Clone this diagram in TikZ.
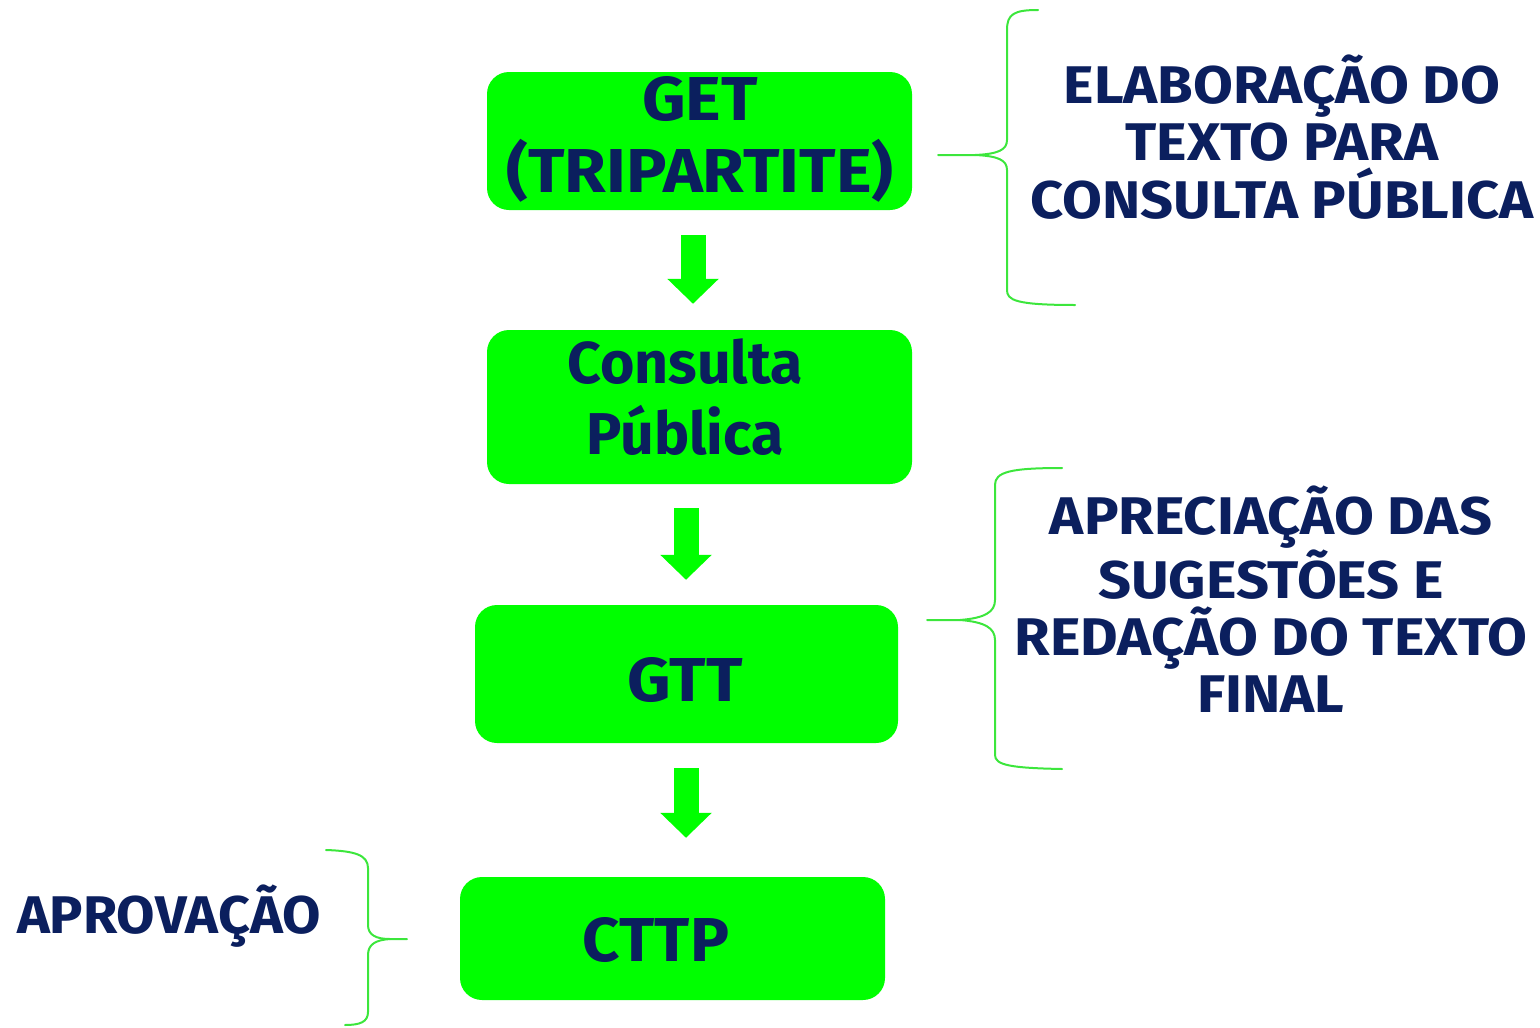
\documentclass[tikz,border=0pt]{standalone}
\usepackage{fontspec}
\setmainfont{Fira Sans}
\newfontfamily\boxfont{Fira Sans}[FakeStretch=1.09]
\newfontfamily\sidefont{Fira Sans}[FakeStretch=1.09]
\newfontfamily\aprfont{Fira Sans}[FakeStretch=1.05]
\usetikzlibrary{arrows.meta}
\definecolor{navy}{HTML}{0B1F5E}
\definecolor{lime}{HTML}{00FF00}
\definecolor{bracegreen}{HTML}{3CE63C}
\tikzset{
  stepbox/.style={rectangle, rounded corners=22pt, fill=lime, draw=none, inner sep=0pt},
  boxtext/.style={text=navy, font=\boxfont\fontsize{62}{72}\selectfont\bfseries, align=center, inner sep=0pt},
  sidetext/.style={text=navy, font=\sidefont\fontsize{53}{57.5}\selectfont\bfseries, align=center, inner sep=0pt},
  flowarrow/.style={draw=lime, line width=25pt, -{Triangle[width=50pt,length=25pt]}},
  bracepath/.style={draw=bracegreen, line width=2pt, line cap=round, line join=round},
}
\begin{document}
\begin{tikzpicture}[x=1pt,y=-1pt]
\useasboundingbox (0,0) rectangle (1540,1028);
% boxes
\node[stepbox, minimum width=425pt, minimum height=138pt] (b1) at (699.5,141) {};
\node[stepbox, minimum width=425pt, minimum height=154pt] (b2) at (699.5,407) {};
\node[stepbox, minimum width=423pt, minimum height=138pt] (b3) at (686.5,674) {};
\node[stepbox, minimum width=425pt, minimum height=123pt] (b4) at (672.5,938.5) {};
% box texts
\node[boxtext] (t1) at (700,139) {GET\\(TRIPARTITE)};
\node[boxtext, font=\rmfamily\fontsize{59}{71}\selectfont\bfseries] (t2) at (685,397) {Consulta\\Pública};
\node[boxtext] (t3) at (685,680) {GTT};
\node[boxtext, font=\aprfont\fontsize{62}{72}\selectfont\bfseries] (t4) at (656,940) {CTTP};
% arrow columns
\coordinate (c1) at (693,0);
\coordinate (c2) at (686,0);
\coordinate (c3) at (686,0);
\draw[flowarrow, shorten <=25pt, shorten >=26pt] (b1.south -| c1) -- (b2.north -| c1);
\draw[flowarrow, shorten <=24pt, shorten >=25pt] (b2.south -| c2) -- (b3.north -| c2);
\draw[flowarrow, shorten <=25pt, shorten >=39pt] (b3.south -| c3) -- (b4.north -| c3);
% side texts
\node[sidetext] (s1) at (1282,137) {ELABORAÇÃO DO\\TEXTO PARA\\CONSULTA PÚBLICA};
\node[sidetext, font=\sidefont\fontsize{53}{57}\selectfont\bfseries] (s2) at (1271,599) {APRECIAÇÃO DAS\\SUGESTÕES E\\REDAÇÃO DO TEXTO\\FINAL};
\node[sidetext, font=\aprfont\fontsize{53}{57.5}\selectfont\bfseries] (s3) at (169,916) {APROVAÇÃO};
% braces
\draw[bracepath] (1038,10) .. controls (1014,10) and (1007,14) .. (1007,30) -- (1007,140)
  .. controls (1007,150) and (998,154) .. (975,155) -- (938,155);
\draw[bracepath] (975,155) .. controls (998,156) and (1007,160) .. (1007,170) -- (1007,290)
  .. controls (1007,300) and (1015,305) .. (1075,305);
\draw[bracepath] (1062,468) .. controls (1010,468) and (995,472) .. (995,485) -- (995,600)
  .. controls (995,612) and (985,618) .. (960,620) -- (927,620);
\draw[bracepath] (960,620) .. controls (985,622) and (995,628) .. (995,640) -- (995,755)
  .. controls (995,765) and (1010,768) .. (1062,769);
\draw[bracepath] (326,850) .. controls (355,851) and (368,855) .. (368,868) -- (368,925)
  .. controls (368,935) and (376,939) .. (390,939) -- (407,939);
\draw[bracepath] (390,939) .. controls (376,940) and (368,944) .. (368,955) -- (368,1012)
  .. controls (368,1022) and (360,1025) .. (345,1025);
\end{tikzpicture}
\end{document}
